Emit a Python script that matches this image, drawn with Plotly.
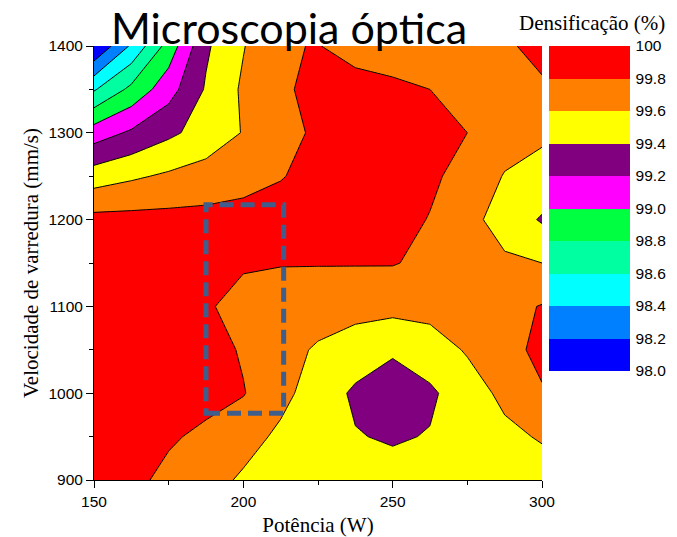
import plotly.graph_objects as go

# Data: laser power (W), scan speed (mm/s), densification (%)
power = [150, 162.5, 175, 187.5, 200, 212.5, 225, 237.5, 250, 262.5, 275, 287.5, 300]
speed = [900, 950, 1000, 1050, 1100, 1150, 1200, 1250, 1300, 1350, 1400]
dens = [
    [99.92, 99.86, 99.74, 99.68, 99.57, 99.50, 99.46, 99.45, 99.47, 99.48, 99.50, 99.52, 99.50],  # 900
    [99.93, 99.92, 99.83, 99.75, 99.68, 99.56, 99.47, 99.41, 99.38, 99.41, 99.47, 99.55, 99.62],  # 950
    [99.93, 99.93, 99.92, 99.88, 99.81, 99.66, 99.50, 99.37, 99.28, 99.37, 99.50, 99.65, 99.78],  # 1000
    [99.93, 99.93, 99.92, 99.88, 99.78, 99.66, 99.58, 99.50, 99.43, 99.50, 99.62, 99.72, 99.86],  # 1050
    [99.92, 99.92, 99.90, 99.82, 99.74, 99.70, 99.68, 99.67, 99.66, 99.67, 99.70, 99.74, 99.81],  # 1100
    [99.90, 99.90, 99.90, 99.88, 99.82, 99.81, 99.81, 99.81, 99.81, 99.76, 99.70, 99.63, 99.60],  # 1150
    [99.86, 99.86, 99.86, 99.86, 99.87, 99.88, 99.90, 99.90, 99.88, 99.79, 99.66, 99.52, 99.38],  # 1200
    [99.50, 99.57, 99.63, 99.68, 99.73, 99.79, 99.86, 99.90, 99.90, 99.84, 99.72, 99.59, 99.54],  # 1250
    [99.10, 99.23, 99.36, 99.48, 99.61, 99.72, 99.84, 99.88, 99.88, 99.86, 99.80, 99.68, 99.63],  # 1300
    [98.58, 98.85, 99.12, 99.42, 99.63, 99.76, 99.87, 99.90, 99.84, 99.80, 99.72, 99.70, 99.76],  # 1350
    [98.00, 98.43, 98.88, 99.37, 99.59, 99.78, 99.81, 99.70, 99.70, 99.70, 99.72, 99.76, 99.88],  # 1400
]

levels = [98.0, 98.2, 98.4, 98.6, 98.8, 99.0, 99.2, 99.4, 99.6, 99.8, 100.0]
level_labels = ["98.0", "98.2", "98.4", "98.6", "98.8", "99.0", "99.2", "99.4", "99.6", "99.8", "100"]
band_colors = ["#0000FF", "#0080FF", "#00FFFF", "#00FFA0", "#00FF40",
               "#FF00FF", "#800080", "#FFFF00", "#FF8000", "#FF0000"]

# highlighted window (W, mm/s)
rect_power = [187.5, 213.5]
rect_speed = [977, 1217]

# stepwise colour scale matching plotly's contour fill mapping (levels +/- half step)
n = len(levels)
seg_colors = [band_colors[0]] + band_colors + [band_colors[-1]]
bounds = [0.0] + [(j + 0.5) / n for j in range(n)] + [1.0]
contour_scale = []
for i, c in enumerate(seg_colors):
    contour_scale.append([bounds[i], c])
    contour_scale.append([bounds[i + 1], c])

# stepwise scale for the legend bar spanning exactly 98..100
nb = len(band_colors)
bar_scale = []
for i, c in enumerate(band_colors):
    bar_scale.append([i / nb, c])
    bar_scale.append([(i + 1) / nb, c])

# page body has an 8px margin: figure is laid out in its own pixel frame
O = 8
W, H = 677 - O, 537 - O
L, T = 94 - O, 45.5 - O
R = W - (541.7 - O)
B = H - (480 - O)
pw = W - L - R
ph = H - T - B

serif = "Liberation Serif, Times New Roman, serif"
sans = "Liberation Sans, Arial, sans-serif"

fig = go.Figure()
fig.add_trace(go.Contour(
    x=power, y=speed, z=dens,
    contours=dict(start=levels[0], end=levels[-1], size=0.2, coloring="fill", showlines=True),
    line=dict(color="black", width=1, smoothing=0),
    colorscale=contour_scale, showscale=False,
    hoverinfo="skip",
))

fig.add_trace(go.Scatter(
    x=[None], y=[None], mode="markers", showlegend=False, hoverinfo="skip",
    marker=dict(color=[levels[5]], cmin=levels[0], cmax=levels[-1], colorscale=bar_scale,
                showscale=True,
                colorbar=dict(
                    x=(549 - 94) / pw, xanchor="left", xpad=0,
                    y=1, yanchor="top", ypad=0,
                    len=325, lenmode="pixels", thickness=81, thicknessmode="pixels",
                    outlinewidth=0, ticks="outside", ticklen=3, tickcolor="rgba(0,0,0,0)",
                    tickvals=levels, ticktext=level_labels,
                    tickfont=dict(family=sans, size=15.5, color="black"),
                )),
))

fig.add_shape(type="rect", xref="x", yref="y",
              x0=rect_power[0], x1=rect_power[1], y0=rect_speed[0], y1=rect_speed[1],
              line=dict(color="#3F5E8C", width=5, dash="14px,7px"),
              fillcolor="rgba(0,0,0,0)")

fig.add_annotation(text="Densificação (%)", xref="paper", yref="paper",
                   x=(667 - 94) / pw, xanchor="right",
                   y=(480 - 22) / ph, yanchor="middle",
                   showarrow=False, font=dict(family=serif, size=21, color="black"))

fig.update_layout(
    width=W, height=H,
    margin=dict(l=L, r=R, t=T, b=B, pad=0, autoexpand=False),
    paper_bgcolor="white", plot_bgcolor="white",
    title=dict(text="Microscopia óptica", x=(289 - O) / W, xanchor="center", xref="container",
               y=1 - (29 - O) / H, yanchor="middle", yref="container",
               font=dict(family="Lato, sans-serif", size=43, color="black")),
    xaxis=dict(range=[150, 300], tick0=150, dtick=50, ticks="outside", ticklen=7,
               tickwidth=1, tickcolor="black", showline=True, linecolor="black",
               linewidth=1, showgrid=False, zeroline=False, automargin=False,
               minor=dict(ticks="outside", ticklen=4, dtick=25, tick0=150, tickcolor="black", showgrid=False),
               tickfont=dict(family=sans, size=15.5, color="black"),
               title=dict(text="Potência (W)", font=dict(family=serif, size=21, color="black"), standoff=9)),
    yaxis=dict(range=[900, 1400], tick0=900, dtick=100, ticks="outside", ticklen=7,
               tickwidth=1, tickcolor="black", showline=True, linecolor="black",
               linewidth=1, showgrid=False, zeroline=False, automargin=False,
               minor=dict(ticks="outside", ticklen=4, dtick=50, tick0=900, tickcolor="black", showgrid=False),
               tickfont=dict(family=sans, size=15.5, color="black"),
               title=dict(text="Velocidade de varredura (mm/s)", font=dict(family=serif, size=21, color="black"), standoff=4)),
)

fig.write_html("out.html")
